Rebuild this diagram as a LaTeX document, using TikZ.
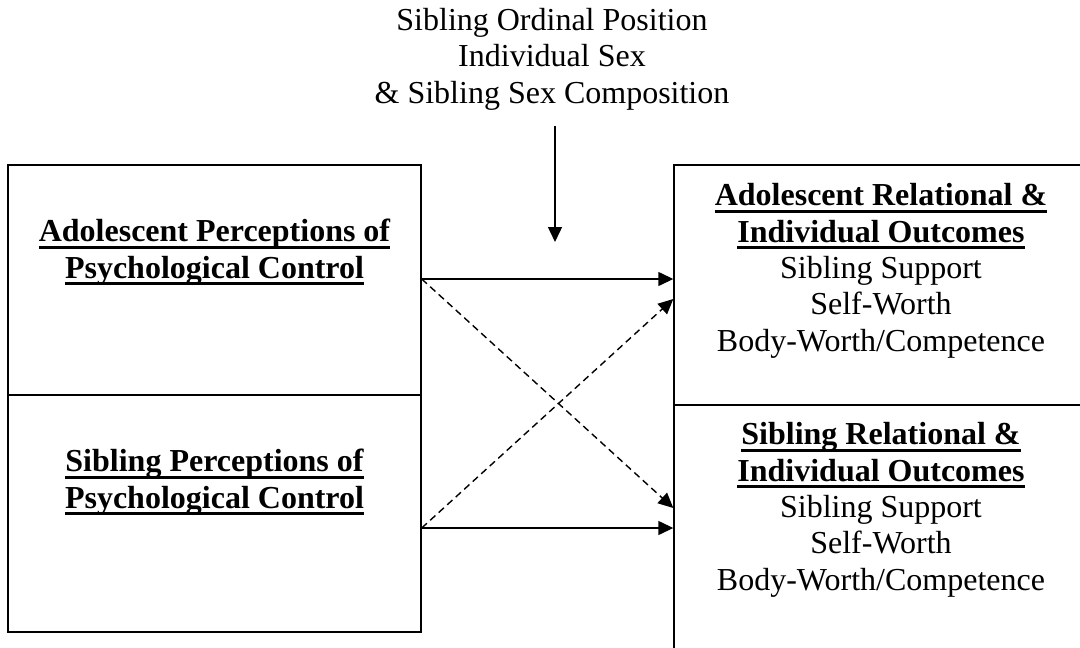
\documentclass[tikz,border=0pt]{standalone}
\usepackage{fontspec}
\setmainfont{Liberation Serif}
\usetikzlibrary{arrows.meta}
\newcommand\ulb[1]{\setbox0\hbox{\bfseries #1}\rlap{\rule[-7pt]{\wd0}{3pt}}\box0}
\begin{document}
\begin{tikzpicture}[x=1pt,y=-1pt,
  boxshape/.style={draw,line width=1.4pt,rectangle,inner sep=0pt},
  label/.style={align=center,inner sep=0pt,anchor=base,font=\fontsize{32}{36.3}\selectfont},
  conn/.style={line width=1.4pt,-{Triangle[length=15pt,width=14pt]}},
  dconn/.style={conn,dash pattern=on 7pt off 4.5pt}]
\useasboundingbox (0,0) rectangle (1080,648);
\clip (0,0) rectangle (1080,648);
% boxes
\node[boxshape,minimum width=413pt,minimum height=230pt] (lt) at (214.5,280) {};
\node[boxshape,minimum width=413pt,minimum height=237pt] (lb) at (214.5,513.5) {};
\node[boxshape,minimum width=421pt,minimum height=240pt] (rt) at (884.5,285) {};
\node[boxshape,minimum width=421pt,minimum height=260pt] (rb) at (884.5,535) {};
% texts (anchor base = baseline of last line)
\node[label] (mod) at (552,103) {Sibling Ordinal Position\\Individual Sex\\\& Sibling Sex Composition};
\node[label] (ltt) at (214.5,278) {\ulb{Adolescent Perceptions of}\\\ulb{Psychological Control}};
\node[label] (lbt) at (214.5,508) {\ulb{Sibling Perceptions of}\\\ulb{Psychological Control}};
\node[label] (rtt) at (881,351) {\ulb{Adolescent Relational \&}\\\ulb{Individual Outcomes}\\Sibling Support\\Self-Worth\\Body-Worth/Competence};
\node[label] (rbt) at (881,590) {\ulb{Sibling Relational \&}\\\ulb{Individual Outcomes}\\Sibling Support\\Self-Worth\\Body-Worth/Competence};
% connectors
\coordinate (modstart) at (555,126);
\coordinate (modtip) at (555,242);
\draw[conn] (modstart) -- (modtip);
\coordinate (a1) at ([yshift=1pt]lt.east);
\coordinate (a2) at ([yshift=-14.5pt]lb.east);
\draw[conn] (a1) -- (a1 -| rt.west);
\draw[conn] (a2) -- (a2 -| rb.west);
\draw[dconn] (a1) -- ([yshift=27pt]rb.west);
\draw[dconn] (a2) -- ([yshift=-14pt]rt.west);
\end{tikzpicture}
\end{document}
